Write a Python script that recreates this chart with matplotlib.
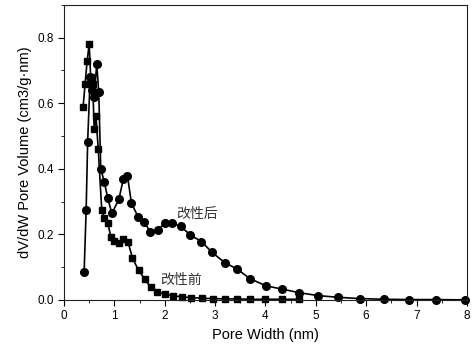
import matplotlib.pyplot as plt
from matplotlib.ticker import MultipleLocator

plt.rcParams['font.family'] = ['Liberation Sans', 'DejaVu Sans']

# 改性前 (squares)
before_x = [0.38, 0.42, 0.46, 0.50, 0.53, 0.57, 0.60, 0.635, 0.68, 0.75, 0.80, 0.87,
            0.93, 0.99, 1.09, 1.18, 1.27, 1.36, 1.48, 1.60, 1.72, 1.85, 2.0, 2.16,
            2.35, 2.53, 2.74, 2.96, 3.19, 3.44, 3.69, 4.0, 4.33, 4.67]
before_y = [0.59, 0.66, 0.73, 0.78, 0.68, 0.66, 0.52, 0.56, 0.46, 0.274, 0.25, 0.234,
            0.193, 0.18, 0.173, 0.185, 0.178, 0.127, 0.091, 0.064, 0.038, 0.025, 0.018, 0.013,
            0.009, 0.007, 0.005, 0.004, 0.003, 0.003, 0.002, 0.002, 0.002, 0.002]

# 改性后 (circles)
after_x = [0.40, 0.44, 0.47, 0.52, 0.56, 0.60, 0.65, 0.69, 0.73, 0.80, 0.87, 0.95,
           1.09, 1.18, 1.26, 1.34, 1.47, 1.59, 1.71, 1.86, 2.0, 2.15, 2.32, 2.51,
           2.73, 2.94, 3.19, 3.44, 3.69, 4.01, 4.33, 4.67, 5.05, 5.44, 5.87, 6.35,
           6.85, 7.39, 7.96]
after_y = [0.086, 0.274, 0.483, 0.68, 0.64, 0.62, 0.72, 0.635, 0.40, 0.36, 0.31, 0.264,
           0.307, 0.37, 0.378, 0.295, 0.254, 0.239, 0.208, 0.213, 0.234, 0.234, 0.224, 0.198,
           0.178, 0.145, 0.114, 0.094, 0.065, 0.043, 0.033, 0.022, 0.013, 0.008, 0.004, 0.002,
           0.001, 0.001, 0.0]

fig = plt.figure(figsize=(4.74, 3.52), dpi=100)
ax = fig.add_axes([0.135, 0.148, 0.85, 0.838])

ax.plot(before_x, before_y, color='black', lw=1.2, marker='s', ms=5, clip_on=False)
ax.plot(after_x, after_y, color='black', lw=1.2, marker='o', ms=5.5, clip_on=False)

ax.text(2.64, 0.262, '改性后', fontsize=10, ha='center', va='center', color='#333333',
        family=['Noto Sans CJK SC', 'DejaVu Sans'])
ax.text(2.32, 0.061, '改性前', fontsize=10, ha='center', va='center', color='#333333',
        family=['Noto Sans CJK SC', 'DejaVu Sans'])

ax.set_xlim(0, 8)
ax.set_ylim(0, 0.9)
ax.xaxis.set_major_locator(MultipleLocator(1))
ax.xaxis.set_minor_locator(MultipleLocator(0.5))
ax.yaxis.set_major_locator(MultipleLocator(0.2))
ax.yaxis.set_minor_locator(MultipleLocator(0.1))
ax.tick_params(which='both', direction='out', labelsize=8.5)
ax.tick_params(which='major', length=4)
ax.tick_params(which='minor', length=2.5)
for s in ax.spines.values():
    s.set_color('#222222')
ax.yaxis.set_major_formatter(plt.FormatStrFormatter('%.1f'))
ax.set_xlabel('Pore Width (nm)', fontsize=10.5)
ax.set_ylabel('dV/dW Pore Volume (cm3/g·nm)', fontsize=10.5)

fig.savefig('out.png', dpi=100)
